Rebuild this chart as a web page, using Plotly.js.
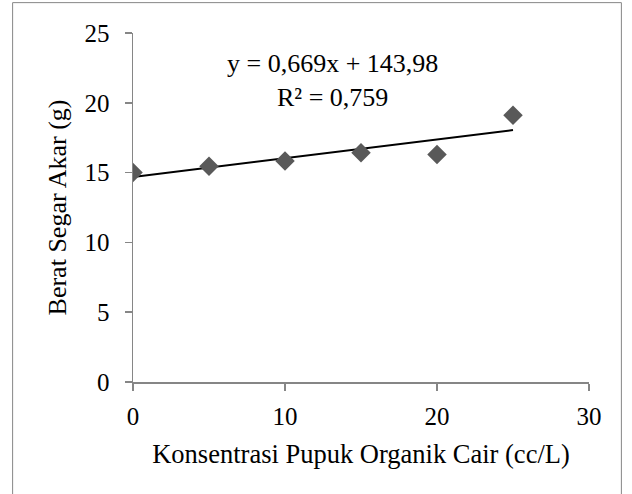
<!DOCTYPE html>
<html>
<head>
<meta charset="utf-8">
<script src="https://cdn.plot.ly/plotly-3.0.1.min.js"></script>
<style>html,body{margin:0;padding:0;background:#fff;}#chart{width:632px;height:494px;}</style>
</head>
<body>
<div id="chart"></div>
<script>
const konsentrasi = [0, 5, 10, 15, 20, 25];
const beratSegarAkar = [15.0, 15.45, 15.83, 16.43, 16.3, 19.1];
const trendX = [0, 25];
const trendY = [14.68, 18.05];
const xTicks = [0, 10, 20, 30];
const yTicks = [0, 5, 10, 15, 20, 25];
const equationText = 'y = 0,669x + 143,98<br>R² = 0,759';
const xTitle = 'Konsentrasi Pupuk Organik Cair (cc/L)';
const yTitle = 'Berat Segar Akar (g)';

const font = '"Liberation Serif", "Times New Roman", serif';
const axisColor = '#868686';

const data = [
  {x: trendX, y: trendY, mode: 'lines', type: 'scatter',
   line: {color: '#000000', width: 2}, hoverinfo: 'skip', showlegend: false},
  {x: konsentrasi, y: beratSegarAkar, mode: 'markers', type: 'scatter',
   marker: {symbol: 'diamond', size: 15, color: '#595959'}, showlegend: false}
];

const layout = {
  width: 632, height: 494,
  margin: {l: 133, r: 43, t: 33, b: 112},
  paper_bgcolor: '#ffffff', plot_bgcolor: '#ffffff',
  font: {family: font, size: 25, color: '#000000'},
  xaxis: {range: [0, 30], tickvals: xTicks, ticks: 'outside', ticklen: 7, tickwidth: 1.5,
    tickcolor: axisColor, showline: true, linecolor: axisColor, linewidth: 1.5,
    showgrid: false, zeroline: false, ticklabelstandoff: 4,
    tickfont: {family: font, size: 25},
    title: {text: xTitle, font: {family: font, size: 26.5}, standoff: 16}},
  yaxis: {range: [0, 25], tickvals: yTicks, ticks: 'outside', ticklen: 7, tickwidth: 1.5,
    tickcolor: axisColor, showline: true, linecolor: axisColor, linewidth: 1.5,
    showgrid: false, zeroline: false, ticklabelstandoff: 10,
    tickfont: {family: font, size: 25},
    title: {text: yTitle, font: {family: font, size: 26}, standoff: 10}},
  annotations: [{xref: 'paper', yref: 'paper', x: 0.438, y: 0.865, xanchor: 'center', yanchor: 'middle',
    text: equationText, showarrow: false, align: 'center',
    font: {family: font, size: 26, color: '#000'}}],
  shapes: [{type: 'rect', xref: 'paper', yref: 'paper', x0: -0.264, x1: 1.071, y0: -0.4, y1: 1.087,
    line: {color: axisColor, width: 1}, fillcolor: 'rgba(0,0,0,0)', layer: 'below'}]
};

Plotly.newPlot('chart', data, layout, {displayModeBar: false, staticPlot: true});
</script>
</body>
</html>
